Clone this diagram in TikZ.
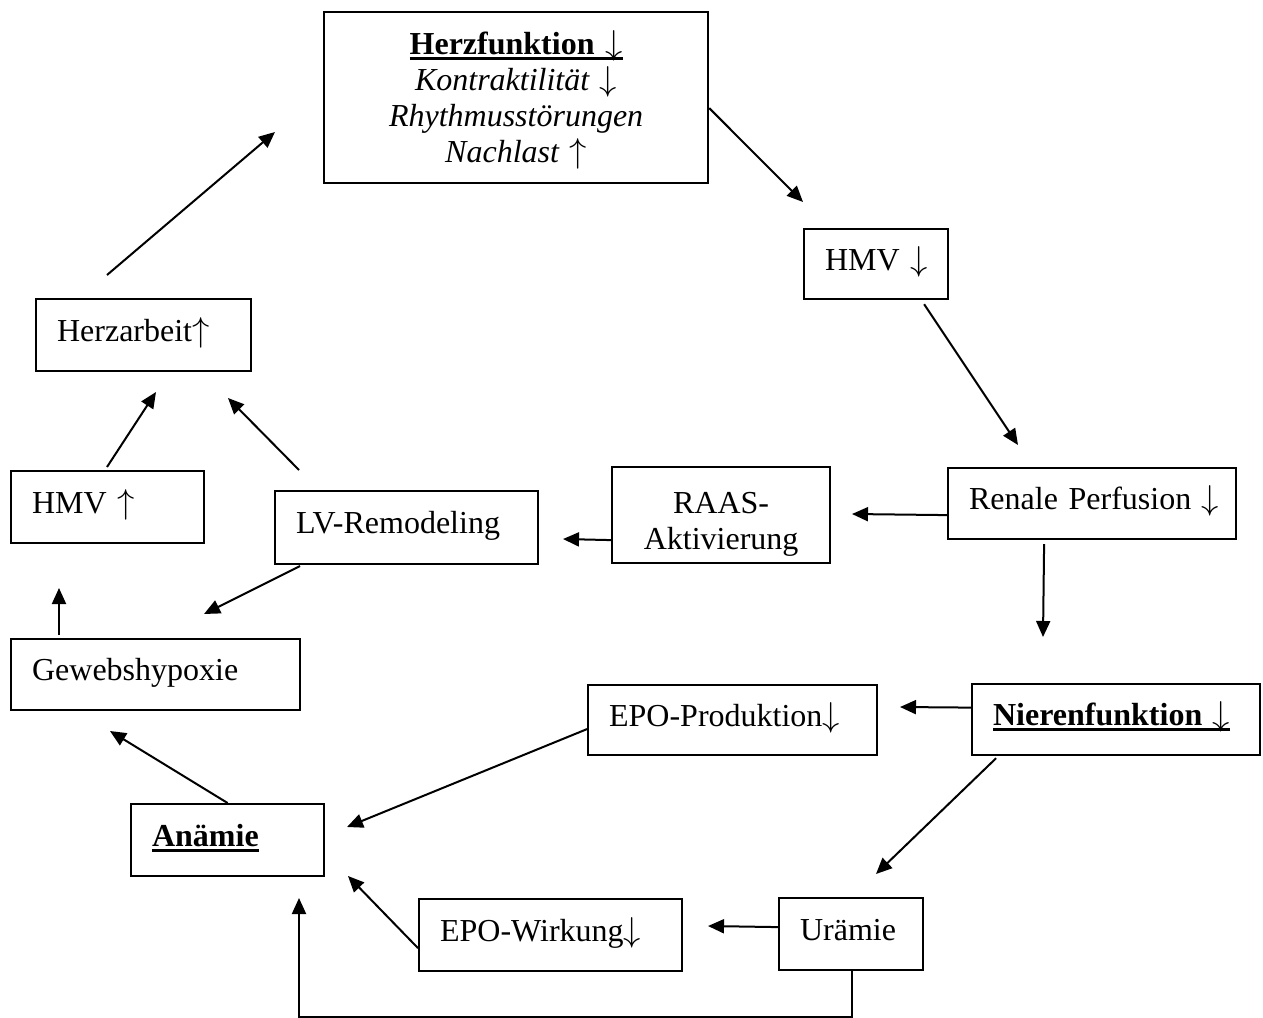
\documentclass[tikz,border=0pt]{standalone}
\usepackage{fontspec}
\setmainfont{Liberation Serif}
\usetikzlibrary{arrows.meta,calc}
\newcommand\thul[1]{\setbox0\hbox{#1}\rlap{\raisebox{-2.8pt}{\rule{\wd0}{1.6pt}}}\box0}
\newcommand\dnar{\smash{$\downarrow$}}
\newcommand\upar{\smash{$\uparrow$}}
\tikzset{
  boxbase/.style={draw, line width=1.1pt, inner xsep=10.5pt, inner ysep=0pt, anchor=north west, font=\fontsize{16}{18}\selectfont},
  bx/.style={boxbase, align=left, text height=11pt, text depth=5pt},
  cbx/.style={boxbase, align=center},
  arr/.style={line width=1pt, -{Triangle[length=8pt,width=7pt]}},
}
\begin{document}
\begin{tikzpicture}[x=0.5pt,y=-0.5pt]
\useasboundingbox (0,0) rectangle (1263,1017);
% boxes
\node[cbx, text width=171pt, minimum height=85.5pt] (herz) at (323,11)
  {\thul{\textbf{Herzfunktion \dnar}}\\ \textit{Kontraktilität \dnar}\\ \textit{Rhythmusstörungen}\\ \textit{Nachlast \upar}};
\node[bx, text width=51pt, minimum height=35pt] (hmvd) at (803,228) {\mbox{HMV \dnar}};
\node[bx, text width=86.5pt, minimum height=36pt] (herzarbeit) at (35,298) {\mbox{Herzarbeit\upar}};
\node[bx, text width=75.5pt, minimum height=36pt] (hmvu) at (10,470) {\mbox{HMV \upar}};
\node[bx, text width=110.5pt, minimum height=36.5pt] (lv) at (274,490) {\mbox{LV-Remodeling}};
\node[cbx, text width=88pt, minimum height=48pt] (raas) at (611,466) {\rule{0pt}{20pt}RAAS-\\Aktivierung};
\node[bx, text width=123pt, minimum height=35.5pt] (renale) at (947,467) {\mbox{Renale Perfusion \dnar}};
\node[bx, text width=123.5pt, minimum height=35.5pt] (gewebe) at (10,638) {\mbox{Gewebshypoxie}};
\node[bx, text width=123.5pt, minimum height=35pt] (epop) at (587,684) {\mbox{EPO-Produktion\dnar}};
\node[bx, text width=123pt, minimum height=35.5pt] (niere) at (971,683) {\mbox{\thul{\textbf{Nierenfunktion \dnar}}}};
\node[bx, text width=75.5pt, minimum height=36pt] (anaemie) at (130,803) {\mbox{\thul{\textbf{Anämie}}}};
\node[bx, text width=110.5pt, minimum height=36pt] (epow) at (418,898) {\mbox{EPO-Wirkung\dnar}};
\node[bx, text width=51pt, minimum height=36pt] (uraemie) at (778,897) {\mbox{Urämie}};
% free ends
\coordinate (t1) at (803,202);
\coordinate (t2) at (1018,445);
\coordinate (t3) at (1043,637);
\coordinate (t4) at (852,514);
\coordinate (t5) at (563,539);
\coordinate (s6) at (299,470);
\coordinate (t6) at (228,398);
\coordinate (s7) at (300,566);
\coordinate (t7) at (204,614);
\coordinate (s8) at (107,467);
\coordinate (t8) at (156,392);
\coordinate (s9) at (59,635);
\coordinate (t9) at (59,588);
\coordinate (s10) at (107,275);
\coordinate (t10) at (275,132);
\coordinate (t11) at (900,707);
\coordinate (t12) at (347,827);
\coordinate (t13) at (110,731);
\coordinate (t14) at (876,874);
\coordinate (t15) at (708,926);
\coordinate (t16) at (348,876);
\coordinate (t17) at (299,898);
% connectors
\draw[arr] ($(herz.east)+(0,10.5)$) -- (t1);
\draw[arr] ($(hmvd.south)+(48,4)$) -- (t2);
\draw[arr] ($(renale.south)+(-48,4)$) -- (t3);
\draw[arr] ($(renale.west)+(0,11.5)$) -- (t4);
\draw[arr] ($(raas.west)+(0,25)$) -- (t5);
\draw[arr] (s6) -- (t6);
\draw[arr] (s7) -- (t7);
\draw[arr] (s8) -- (t8);
\draw[arr] (s9) -- (t9);
\draw[arr] (s10) -- (t10);
\draw[arr] ($(niere.west)+(0,-12)$) -- (t11);
\draw[arr] ($(epop.west)+(0,9)$) -- (t12);
\draw[arr] (anaemie.north) -- (t13);
\draw[arr] ($(niere.south)+(-120,2)$) -- (t14);
\draw[arr] ($(uraemie.west)+(0,-7)$) -- (t15);
\draw[arr] ($(epow.west)+(0,13)$) -- (t16);
\draw[arr] ($(uraemie.south)+(1,0)$) -- ++(0,46) -| (t17);
\end{tikzpicture}
\end{document}
